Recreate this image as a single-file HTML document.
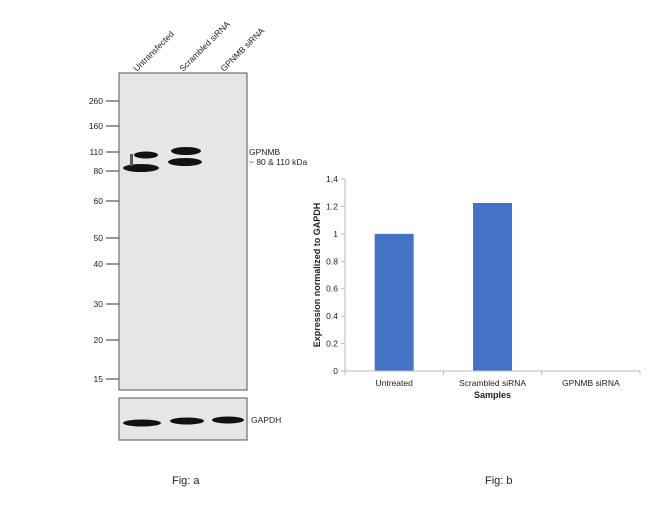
<!DOCTYPE html>
<html><head><meta charset="utf-8"><style>
body{margin:0;width:650px;height:511px;background:#fff;font-family:"Liberation Sans",Arial,sans-serif;position:relative;overflow:hidden}
svg{position:absolute;left:0;top:0}
text{font-family:"Liberation Sans",Arial,sans-serif;fill:#222}
</style></head><body>
<svg width="650" height="511">
<g>
<rect x="119" y="73" width="128" height="317" fill="#e6e6e6" stroke="#555" stroke-width="1"/>
<rect x="119" y="398" width="128" height="42" fill="#e6e6e6" stroke="#555" stroke-width="1"/>
<g font-size="8.5">
<text transform="translate(137,72) rotate(-45)">Untransfected</text>
<text transform="translate(183,72) rotate(-45)">Scrambled siRNA</text>
<text transform="translate(224,72) rotate(-45)">GPNMB siRNA</text>
</g>
<g id="ladder" font-size="8.5"></g>
<g fill="#111">
<ellipse cx="141" cy="168" rx="18" ry="4"/>
<ellipse cx="146" cy="155" rx="12" ry="3.5"/>
<rect x="130" y="154" width="3" height="12" fill="#555"/>
<ellipse cx="185" cy="162" rx="17" ry="4"/>
<ellipse cx="186" cy="151" rx="15" ry="4"/>
</g>
<text x="249" y="155" font-size="8.5">GPNMB</text>
<text x="249" y="165" font-size="8.5">~ 80 &amp; 110 kDa</text>
<g fill="#111">
<ellipse cx="142" cy="423" rx="19" ry="3.5"/>
<ellipse cx="187" cy="421" rx="17" ry="3.5"/>
<ellipse cx="228" cy="420" rx="16" ry="3.5"/>
</g>
<text x="251" y="423" font-size="8.5">GAPDH</text>
<text x="172" y="484" font-size="11">Fig: a</text>
</g>
<g id="chart"></g>
<text x="485" y="484" font-size="11">Fig: b</text>
</svg>
<script>
const categories=["Untreated","Scrambled siRNA","GPNMB siRNA"];
const values=[1.0,1.225,0];
const yTicks=[0,0.2,0.4,0.6,0.8,1,1.2,1.4];
const yTickLabels=["0","0.2","0.4","0.6","0.8","1","1.2","1,4"];
const ladderLabels=["260","160","110","80","60","50","40","30","20","15"];
const ladderY=[101,126,152,171,201,238,264,304,340,379];
const NS="http://www.w3.org/2000/svg";
function mk(p,t,a){const e=document.createElementNS(NS,t);for(const k in a)e.setAttribute(k,a[k]);p.appendChild(e);return e;}
const lad=document.getElementById('ladder');
ladderLabels.forEach((l,i)=>{
 const t=mk(lad,'text',{x:103,y:ladderY[i]+3,'text-anchor':'end'});t.textContent=l;
 
 
 const ln=mk(lad,'line',{x1:106,x2:119,y1:ladderY[i],y2:ladderY[i],stroke:'#333','stroke-width':1});
 
 
});
const g=document.getElementById('chart');
const x0=345,x1=640,yb=371,yt=179,ymax=1.4;
const y=v=>yb-(v/ymax)*(yb-yt);
const bw=(x1-x0)/categories.length;
const xc=i=>x0+bw*(i+0.5);
const ya=mk(g,'line',{x1:x0,x2:x0,y1:yt,y2:yb,stroke:'#bbb'});


yTicks.forEach((v,i)=>{
 const tk=mk(g,'line',{x1:x0-4,x2:x0,y1:y(v),y2:y(v),stroke:'#bbb'});
 
 
 const t=mk(g,'text',{x:x0-7,y:y(v)+3,'text-anchor':'end','font-size':8.5});t.textContent=yTickLabels[i];
 
 
});
values.forEach((v,i)=>{
 if(v>0){const r=mk(g,'rect',{x:xc(i)-19.5,y:y(v),width:39,height:yb-y(v),fill:'#4472c4'});
 
 }
 const t=mk(g,'text',{x:xc(i),y:yb+15,'text-anchor':'middle','font-size':8.5});t.textContent=categories[i];
 
 
});
const xa=mk(g,'line',{x1:x0,x2:x1,y1:yb,y2:yb,stroke:'#bbb'});


for(let i=0;i<=categories.length;i++){const tk=mk(g,'line',{x1:x0+bw*i,x2:x0+bw*i,y1:yb,y2:yb+4,stroke:'#bbb'});
 
 }
const xt=mk(g,'text',{x:(x0+x1)/2,y:yb+27,'text-anchor':'middle','font-size':9,'font-weight':'bold'});xt.textContent='Samples';


const yt2=mk(g,'text',{transform:`translate(320,${(yt+yb)/2}) rotate(-90)`,'text-anchor':'middle','font-size':9,'font-weight':'bold'});yt2.textContent='Expression normalized to GAPDH';


</script>
</body></html>
